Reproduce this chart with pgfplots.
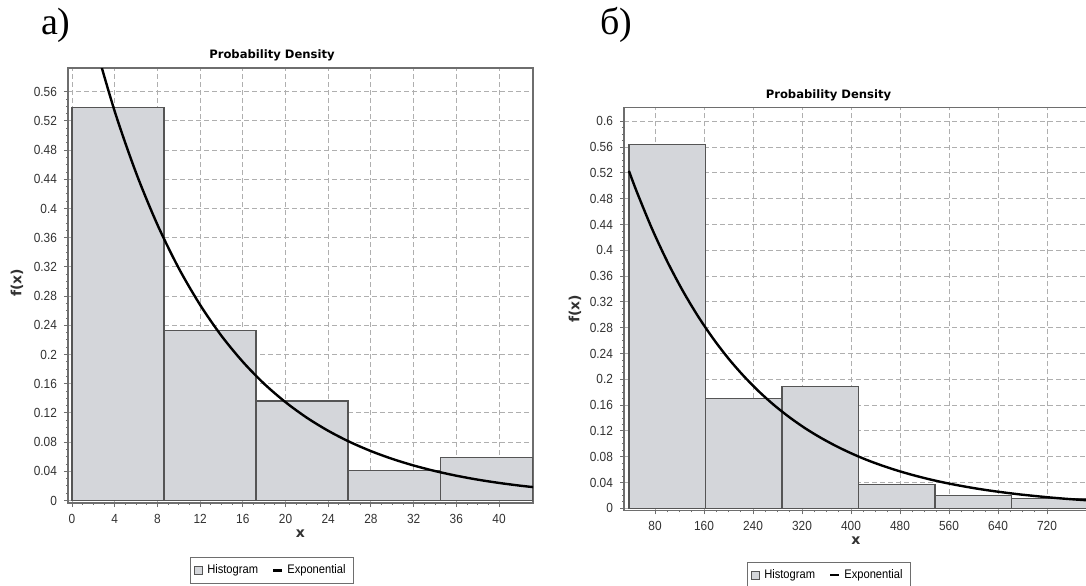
\documentclass[border=0pt]{standalone}
\usepackage{fontspec}
\usepackage{pgfplots}
\pgfplotsset{compat=1.18}
\setmainfont{Liberation Sans}
\newfontfamily\tickfont{Liberation Sans}[FakeStretch=0.9]
\newfontfamily\titlefont{DejaVu Sans}
\newfontfamily\letterfont{Liberation Serif}
\newcommand\tk{\tickfont\fontsize{6.6pt}{7.5pt}\selectfont}
\definecolor{barfill}{RGB}{212,214,218}
\definecolor{bardraw}{RGB}{85,85,85}
\definecolor{gridc}{RGB}{175,175,175}
\definecolor{framec}{RGB}{110,110,110}
\definecolor{labc}{RGB}{50,50,50}

\pgfplotsset{
  pd/.style={
    scale only axis, anchor=south west,
    axis line style={draw=framec, line width=0.7pt},
    tick style={draw=framec, line width=0.45pt},
    tick align=outside, tick pos=left,
    major tick length=2pt, minor tick length=1pt,
    minor tick num=3,
    grid=major,
    major grid style={draw=gridc, line width=0.45pt, dash pattern=on 2.5pt off 1.5pt},
    ticklabel style={font=\tk, text=labc, /pgf/number format/assume math mode=true},
    scaled y ticks=false,
    yticklabel style={/pgf/number format/fixed, /pgf/number format/precision=2},
    title={Probability Density},
    every axis title/.style={anchor=center, font=\titlefont\bfseries\fontsize{5.8pt}{7pt}\selectfont},
    xlabel={x}, ylabel={f(x)},
    label style={font=\titlefont\bfseries\fontsize{7pt}{8pt}\selectfont, text=labc},
    legend columns=2,
    legend style={draw=framec, line width=0.5pt, fill=white, font=\tickfont\fontsize{6.2pt}{7pt}\selectfont,
      anchor=center, inner xsep=2pt, inner ysep=1.5pt,
      /tikz/every even column/.append style={column sep=5pt}},
  },
  hist/.style={ybar interval, fill=barfill, draw=bardraw, line width=0.6pt,
    legend image code/.code={\draw[fill=barfill, draw=bardraw, line width=0.45pt] (0pt,-2pt) rectangle (4pt,2pt);}},
  expo/.style={black, line width=1.2pt, smooth,
    legend image code/.code={\draw[black, line width=1.1pt] (0pt,0pt) -- (4.5pt,0pt);}},
}

\begin{document}
\begin{tikzpicture}
\useasboundingbox (0,0) rectangle (543pt,292.5pt);
\node[anchor=base west, inner sep=0pt, font=\letterfont\fontsize{19pt}{22pt}\selectfont] at (20.3pt,275pt) {а)};
\node[anchor=base west, inner sep=0pt, font=\letterfont\fontsize{19pt}{22pt}\selectfont] at (300pt,275pt) {б)};

% a)
\begin{axis}[pd,
  at={(34pt,41pt)}, width=232.5pt, height=217.5pt,
  xmin=-0.375, xmax=43.18, ymin=-0.0034, ymax=0.5925,
  xtick={0,4,8,12,16,20,24,28,32,36,40},
  ytick={0,0.04,0.08,0.12,0.16,0.2,0.24,0.28,0.32,0.36,0.4,0.44,0.48,0.52,0.56},
  title style={at={(0.4387,1.03)}},
  xlabel style={at={(0.5,-0.0713)}, anchor=center},
  ylabel style={at={(-0.1097,0.5057)}, anchor=center},
  legend style={at={(0.4387,-0.155)}},
]
\addplot[hist] coordinates {(0,0.538) (8.62,0.2326) (17.24,0.1363) (25.86,0.0414) (34.48,0.0586) (43.1,0.0586)};
\addlegendentry{Histogram}
\addplot[expo] coordinates {(2,0.6332)(4,0.5331)(6,0.4489)(8,0.3779)(10,0.3182)(12,0.2680)(14,0.2256)(16,0.1900)(18,0.1599)(20,0.1347)(22,0.1134)(24,0.0955)(26,0.0804)(28,0.0677)(30,0.0570)(32,0.0480)(34,0.0404)(36,0.0340)(38,0.0286)(40,0.0241)(42,0.0203)(43.2,0.0184)};
\addlegendentry{Exponential}
\end{axis}

% b)
\begin{axis}[pd,
  at={(312pt,37.35pt)}, width=232pt, height=201.3pt,
  xmin=29.4, xmax=786.9, ymin=-0.0031, ymax=0.6211,
  xtick={80,160,240,320,400,480,560,640,720},
  ytick={0,0.04,0.08,0.12,0.16,0.2,0.24,0.28,0.32,0.36,0.4,0.44,0.48,0.52,0.56,0.6},
  title style={at={(0.4407,1.0315)}},
  xlabel style={at={(0.5,-0.0763)}, anchor=center},
  ylabel style={at={(-0.1056,0.5)}, anchor=center},
  legend style={at={(0.4418,-0.1607)}},
]
\addplot[hist] coordinates {(37.5,0.5637) (162.4,0.1705) (287.3,0.1885) (412.2,0.0372) (537.1,0.0195) (662,0.0155) (786.9,0.0155)};
\addlegendentry{Histogram}
\addplot[expo] coordinates {(37.5,0.5231)(50,0.4914)(75,0.4337)(100,0.3827)(125,0.3378)(150,0.2981)(175,0.2631)(200,0.2321)(225,0.2049)(250,0.1808)(275,0.1595)(300,0.1408)(325,0.1242)(350,0.1097)(375,0.0968)(400,0.0854)(425,0.0753)(450,0.0665)(475,0.0587)(500,0.0518)(525,0.0457)(550,0.0403)(575,0.0356)(600,0.0314)(625,0.0277)(650,0.0245)(675,0.0216)(700,0.0191)(725,0.0168)(750,0.0148)(775,0.0131)(790,0.0122)};
\addlegendentry{Exponential}
\end{axis}
\end{tikzpicture}
\end{document}
